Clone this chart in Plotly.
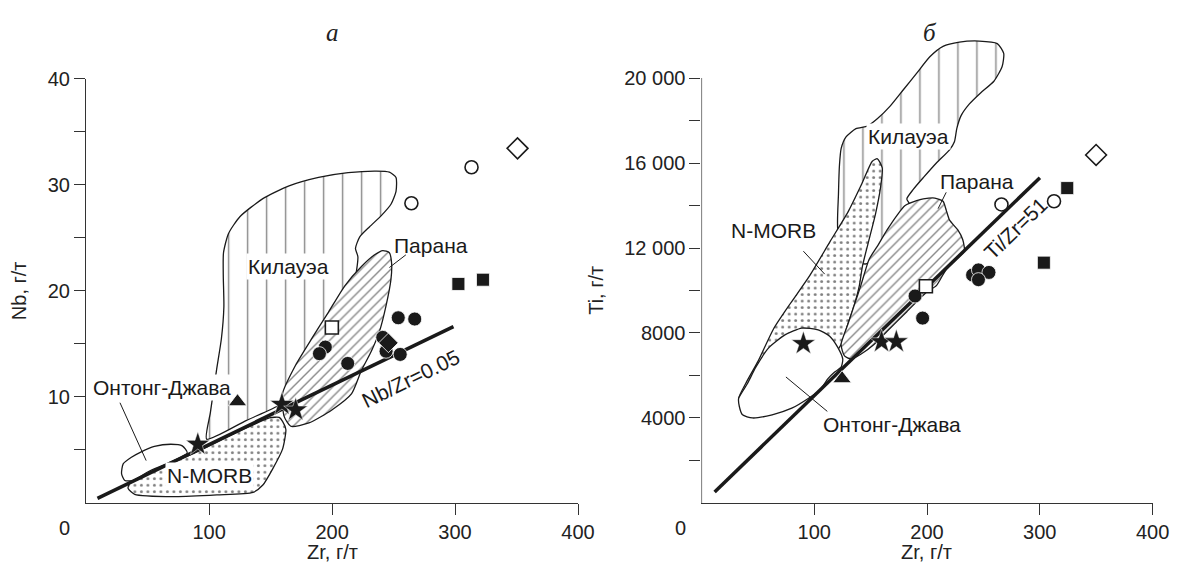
import plotly.graph_objects as go

FONT = "Liberation Sans, Arial, sans-serif"
INK = "#1a1a1a"

# ---------------- Panel а : Nb vs Zr ----------------
a_circle_zr = [253.8, 267.2, 241.2, 243.9, 255.4, 194.5, 189.7, 212.7]
a_circle_nb = [17.46, 17.34, 15.61, 14.3, 14.0, 14.69, 14.07, 13.15]
a_dia_zr = [245.8]
a_dia_nb = [15.09]
a_ocircle_zr = [313.4, 264.5]
a_ocircle_nb = [31.67, 28.27]
a_odia_zr = [350.8]
a_odia_nb = [33.45]
a_square_zr = [302.7, 322.7]
a_square_nb = [20.65, 21.05]
a_osquare_zr = [199.8]
a_osquare_nb = [16.54]
a_tri_zr = [123.1]
a_tri_nb = [9.54]
a_star_zr = [90.8, 159.2, 170.4]
a_star_nb = [5.52, 9.29, 8.76]

a_line_zr = [9.2, 298.7]
a_line_nb = [0.42, 16.63]

a_kil_zr = [98, 101, 106, 110, 112, 111.5, 111.7, 115.7, 125, 143.7, 165, 189, 213, 236, 246.6, 252, 252,
            248, 240, 230.5, 222.5, 219, 221, 215, 195, 175, 158, 130, 98]
a_kil_nb = [6.0, 8.5, 12.5, 15.5, 18.5, 21.5, 23.6, 25.4, 27.0, 28.7, 29.9, 30.7, 31.15, 31.3, 31.2, 30.7, 29.4,
            28.2, 27.1, 26.05, 25.1, 24.0, 23.2, 19, 14, 10.5, 9.25, 7.75, 6.0]
a_par_zr = [161, 159.7, 170.4, 183.8, 197.1, 210.5, 223.9, 234.6, 241.2, 246.6, 248.4, 247.9, 243.9, 238.6,
            231.9, 223.9, 215.9, 199.8, 181.1, 166.4, 161]
a_par_nb = [8.15, 10.3, 13.0, 15.56, 18.0, 20.5, 22.3, 23.4, 23.8, 23.6, 22.6, 21.1, 18.6, 16.2,
            14.3, 12.5, 10.3, 8.76, 7.53, 7.22, 8.15]
a_morb_zr = [35.5, 90, 149, 157, 159.7, 162.4, 159.7, 151.7, 143.7, 135.7, 106.3, 71.6, 39.5, 34.1, 35.5]
a_morb_nb = [1.85, 4.8, 8.0, 8.05, 7.68, 6.91, 5.06, 3.2, 1.67, 0.98, 0.74, 0.58, 0.8, 1.35, 1.85]
a_oj_zr = [28.8, 30.1, 36.8, 44.8, 55.5, 68.9, 78.2, 82.2, 50, 38, 31.5, 28.8]
a_oj_nb = [2.74, 3.67, 4.29, 4.81, 5.31, 5.52, 5.37, 4.7, 2.9, 2.1, 2.1, 2.74]

a_lead_oj_zr = [27.5, 48.8]
a_lead_oj_nb = [9.44, 3.98]
a_lead_par_zr = [260, 246.6]
a_lead_par_nb = [23.4, 22.2]

# ---------------- Panel б : Ti vs Zr ----------------
b_circle_zr = [189.4, 196.1, 240.4, 245.6, 254.9, 245.6]
b_circle_ti = [9740, 8700, 10730, 10970, 10850, 10510]
b_ocircle_zr = [266, 312.6]
b_ocircle_ti = [14050, 14200]
b_odia_zr = [349.9]
b_odia_ti = [16380]
b_square_zr = [324.3, 303.6]
b_square_ti = [14820, 11310]
b_osquare_zr = [199]
b_osquare_ti = [10200]
b_tri_zr = [124.7]
b_tri_ti = [5850]
b_star_zr = [90.4, 159.7, 172.8]
b_star_ti = [7500, 7590, 7590]

b_line_zr = [11.7, 300.1]
b_line_ti = [520, 15310]

b_kil_zr = [121, 121.5, 122.4, 123.9, 128.2, 137, 147.2, 155.9, 167.5, 179.2, 190.9, 202.5, 214.2, 228.7,
            246.2, 262.3, 268, 266.6, 259.3, 247.7, 237.4, 230.2, 226.4, 224.3, 220, 208.3, 196.7, 188,
            182.1, 185, 172, 155, 146, 130, 121]
b_kil_ti = [12800, 14540, 15920, 16690, 17230, 17620, 17740, 18080, 18690, 19460, 20230, 21000, 21490, 21690,
            21740, 21620, 21160, 20540, 19850, 19310, 18770, 18230, 17620, 17000, 16620, 16000, 15310, 14770,
            14310, 14000, 12800, 11600, 11250, 11500, 12800]
b_morb_zr = [156, 160.3, 158.8, 154.4, 148.6, 142.8, 140, 135.5, 129.7, 123.8, 110, 70, 40, 33,
             40, 50.5, 64, 79, 96, 114, 130, 142, 151.5, 156]
b_morb_ti = [16200, 15770, 14850, 13620, 12390, 11160, 10230, 9310, 8390, 7460, 6500, 5600, 5000, 4920,
             5700, 6700, 8200, 9400, 10700, 12300, 13700, 15000, 16080, 16200]
b_oj_zr = [33, 40.8, 48.2, 59.8, 74.4, 88.9, 103.5, 113.7, 121, 125.3, 123.8, 118.1, 112.2, 105, 94.7,
           80.1, 62.7, 45.2, 36.4, 33.6, 33]
b_oj_ti = [4920, 5620, 6390, 7310, 7920, 8230, 8150, 7850, 7310, 6770, 6390, 6160, 5850, 5310, 4920,
           4460, 4150, 4000, 4150, 4540, 4920]
b_par_zr = [196.7, 206.9, 214.2, 217.1, 220, 227.3, 231.7, 233.1, 225.8, 217.1, 208.3, 199.5, 182.1, 164.6,
            153, 141.3, 132.6, 126.8, 123.8, 129.7, 135.5, 141.3, 148.6, 155.9, 164.6, 173.4, 180.6, 190.8, 196.7]
b_par_ti = [14310, 14350, 14200, 13770, 13310, 12850, 12390, 11850, 11460, 11000, 10230, 9920, 9000, 8080,
            7460, 7000, 6770, 6920, 7460, 8390, 9310, 10230, 11460, 12080, 12850, 13540, 14000, 14230, 14310]

b_lead_par_zr = [217, 209.8]
b_lead_par_ti = [14620, 13850]
b_lead_morb_zr = [90.4, 109.3]
b_lead_morb_ti = [11850, 10770]
b_lead_oj_zr = [111.6, 74.9]
b_lead_oj_ti = [4310, 5930]

a_xticks = [100, 200, 300, 400]
a_yticks = [5, 10, 15, 20, 25, 30, 35, 40]
a_yticktext = ["", "10", "", "20", "", "30", "", "40"]
b_yticks = [2000, 4000, 6000, 8000, 10000, 12000, 14000, 16000, 18000, 20000]
b_yticktext = ["", "4000", "", "8000", "", "12 000", "", "16 000", "", "20 000"]

fig = go.Figure()

PAT_KIL = dict(shape="|", size=19, solidity=0.075, fgcolor="#111", bgcolor="white")
PAT_PAR = dict(shape="/", size=7, solidity=0.2, fgcolor="#111", bgcolor="white")
PAT_MORB = dict(shape=".", size=6.5, solidity=0.16, fgcolor="#000", bgcolor="white")


def poly(xs, ys, pat, xa, ya):
    kw = dict(x=xs, y=ys, mode="lines", fill="toself", fillcolor="white",
              line=dict(color=INK, width=1.3, shape="spline", smoothing=0.6),
              xaxis=xa, yaxis=ya, hoverinfo="skip", showlegend=False)
    if pat is not None:
        kw["fillpattern"] = pat
    fig.add_trace(go.Scatter(**kw))


def seg(xs, ys, xa, ya, w=1.0):
    fig.add_trace(go.Scatter(x=xs, y=ys, mode="lines", line=dict(color=INK, width=w),
                             xaxis=xa, yaxis=ya, hoverinfo="skip", showlegend=False))


def pts(xs, ys, sym, size, xa, ya, fill=INK, lc="white", lw=0.8):
    fig.add_trace(go.Scatter(x=xs, y=ys, mode="markers",
                             marker=dict(symbol=sym, size=size, color=fill, line=dict(color=lc, width=lw)),
                             xaxis=xa, yaxis=ya, hoverinfo="skip", showlegend=False, cliponaxis=False))


# panel а
poly(a_kil_zr, a_kil_nb, PAT_KIL, "x", "y")
poly(a_oj_zr, a_oj_nb, None, "x", "y")
poly(a_morb_zr, a_morb_nb, PAT_MORB, "x", "y")
poly(a_par_zr, a_par_nb, PAT_PAR, "x", "y")
seg(a_line_zr, a_line_nb, "x", "y", 3.5)
seg(a_lead_oj_zr, a_lead_oj_nb, "x", "y")
seg(a_lead_par_zr, a_lead_par_nb, "x", "y")
pts(a_circle_zr, a_circle_nb, "circle", 14, "x", "y")
pts(a_dia_zr, a_dia_nb, "diamond", 15, "x", "y")
pts(a_ocircle_zr, a_ocircle_nb, "circle", 13, "x", "y", fill="white", lc=INK, lw=1.6)
pts(a_odia_zr, a_odia_nb, "diamond", 16, "x", "y", fill="white", lc=INK, lw=1.6)
pts(a_square_zr, a_square_nb, "square", 13, "x", "y")
pts(a_osquare_zr, a_osquare_nb, "square", 13, "x", "y", fill="white", lc=INK, lw=1.6)
pts(a_tri_zr, a_tri_nb, "triangle-up", 16, "x", "y")
pts(a_star_zr, a_star_nb, "star", 18, "x", "y", lw=0.5)

# panel б
poly(b_kil_zr, b_kil_ti, PAT_KIL, "x2", "y2")
poly(b_morb_zr, b_morb_ti, PAT_MORB, "x2", "y2")
poly(b_oj_zr, b_oj_ti, None, "x2", "y2")
poly(b_par_zr, b_par_ti, PAT_PAR, "x2", "y2")
seg(b_line_zr, b_line_ti, "x2", "y2", 3.5)
seg(b_lead_par_zr, b_lead_par_ti, "x2", "y2")
seg(b_lead_morb_zr, b_lead_morb_ti, "x2", "y2")
seg(b_lead_oj_zr, b_lead_oj_ti, "x2", "y2")
pts(b_circle_zr, b_circle_ti, "circle", 14, "x2", "y2")
pts(b_ocircle_zr, b_ocircle_ti, "circle", 13, "x2", "y2", fill="white", lc=INK, lw=1.6)
pts(b_odia_zr, b_odia_ti, "diamond", 16, "x2", "y2", fill="white", lc=INK, lw=1.6)
pts(b_square_zr, b_square_ti, "square", 13, "x2", "y2")
pts(b_osquare_zr, b_osquare_ti, "square", 13, "x2", "y2", fill="white", lc=INK, lw=1.6)
pts(b_tri_zr, b_tri_ti, "triangle-up", 16, "x2", "y2")
pts(b_star_zr, b_star_ti, "star", 18, "x2", "y2", lw=0.5)

axis_common = dict(showgrid=False, zeroline=False, ticks="outside", ticklen=11, tickwidth=1.3,
                   tickcolor="#333", linecolor="#333", linewidth=1.3,
                   tickfont=dict(family=FONT, size=20, color="#222"), fixedrange=True)

fig.update_layout(
    width=1190, height=566, margin=dict(l=0, r=0, t=0, b=0),
    paper_bgcolor="white", plot_bgcolor="white", showlegend=False,
    xaxis=dict(domain=[0.07345, 0.49277], range=[0, 400], anchor="y", showline=True,
               tickvals=a_xticks, **axis_common),
    yaxis=dict(domain=[0.11396, 0.87756], range=[0, 40], anchor="x", showline=True,
               tickvals=a_yticks, ticktext=a_yticktext, **axis_common),
    xaxis2=dict(domain=[0.59798, 0.98261], range=[0, 400], anchor="y2", showline=True,
                tickvals=a_xticks, **axis_common),
    yaxis2=dict(domain=[0.1136, 0.96343], range=[0, 22200], anchor="x2", showline=False,
                tickvals=b_yticks, ticktext=b_yticktext, **axis_common),
)

fig.add_shape(type="line", xref="x2", yref="y2", x0=0, x1=0, y0=0, y1=20000,
              line=dict(color="#333", width=1.3))

LBL = dict(family=FONT, size=21, color="#1a1a1a")
ann = []


def lab(text, x, y, xr, yr, bg=None, angle=0, font=LBL, xanchor="center", yanchor="middle"):
    d = dict(text=text, x=x, y=y, xref=xr, yref=yr, showarrow=False, font=font,
             textangle=angle, xanchor=xanchor, yanchor=yanchor, borderpad=1)
    if bg:
        d["bgcolor"] = bg
    ann.append(d)


lab("Килауэа", 164.6, 22.34, "x", "y", bg="white")
lab("Парана", 280.5, 24.26, "x", "y")
lab("Онтонг-Джава", 61.4, 10.9, "x", "y", bg="white")
lab("N-MORB", 100.1, 2.6, "x", "y", bg="white")
lab("Nb/Zr=0.05", 264, 11.7, "x", "y", angle=-26)

lab("Килауэа", 183.6, 17230, "x2", "y2", bg="white")
lab("Парана", 243.9, 15120, "x2", "y2")
lab("N-MORB", 64.1, 12820, "x2", "y2")
lab("Онтонг-Джава", 169, 3690, "x2", "y2")
lab("Ti/Zr=51", 278.5, 12900, "x2", "y2", angle=-44)

TICKF = dict(family=FONT, size=20, color="#222")
lab("0", 65.7 / 1190, (566 - 527) / 566, "paper", "paper", font=TICKF)
lab("0", 690.7 / 1190, (566 - 527) / 566, "paper", "paper", font=TICKF)
lab("Zr, г/т", 337 / 1190, (566 - 552) / 566, "paper", "paper", font=TICKF)
lab("Zr, г/т", 940 / 1190, (566 - 552) / 566, "paper", "paper", font=TICKF)
lab("Nb, г/т", 20 / 1190, (566 - 285) / 566, "paper", "paper", font=TICKF, angle=-90)
lab("Ti, г/т", 605 / 1190, (566 - 285) / 566, "paper", "paper", font=TICKF, angle=-90)

TITLEF = dict(family="Liberation Serif, Times New Roman, serif", size=25, color="#222")
lab("<i>а</i>", 337 / 1190, (566 - 22) / 566, "paper", "paper", font=TITLEF)
lab("<i>б</i>", 943 / 1190, (566 - 22) / 566, "paper", "paper", font=TITLEF)

fig.update_layout(annotations=ann)
fig.write_html("out.html")
